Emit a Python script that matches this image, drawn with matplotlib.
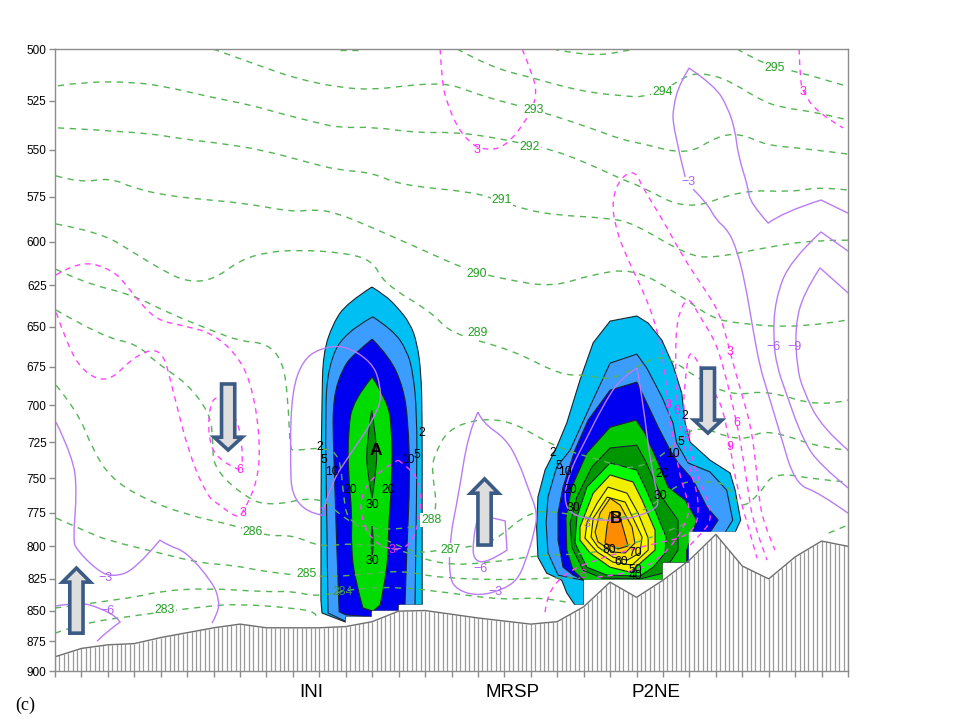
"""
Cross-section (c): cloud water contours over terrain, with theta and w lines
"""

import matplotlib

matplotlib.use("Agg")
import matplotlib.pyplot as plt
import numpy as np
from matplotlib.patches import PathPatch
from matplotlib.path import Path

plt.rcParams["font.family"] = ["Liberation Sans", "DejaVu Sans"]

# x is the grid index along the section (0-30), p is pressure in hPa
P_TICKS = list(range(500, 901, 25))
TERRAIN_P = [888, 881, 878, 877, 872, 868, 864, 861, 864, 864, 864, 863, 859, 850.5, 850, 853,
             856, 858.5, 861, 859, 847, 827.5, 839.5, 826, 810.5, 791, 815, 825, 808, 796, 800]

# cloud A
A2_X = [11.99, 12.49, 12.94, 13.43, 13.70, 13.85, 13.89, 13.89, 13.89, 13, 13, 12, 12, 11, 11, 10.10, 10.06, 10.06, 10.10, 10.14, 10.52, 11.05]
A2_P = [626.1, 631, 638, 647.8, 660, 679, 705.4, 765.8, 845.6, 845.6, 850.5, 850.5, 855.3, 855.3, 859.4, 852, 841.6, 751.4, 696.7, 666.5, 647.8, 635.6]
A5_X = [12.02, 12.79, 13.31, 13.55, 13.69, 13.69, 13.62, 13, 13, 12, 12, 11, 11, 10.33, 10.28, 10.22, 10.33, 10.90]
A5_P = [644, 652.1, 664.6, 679, 705.4, 751.4, 845.6, 845.6, 850.5, 850.5, 855.3, 855.3, 858.8, 852, 775.3, 705.4, 675.3, 654]
A10_X = [12.0, 12.67, 13.17, 13.36, 13.43, 13.32, 13.24, 13, 13, 12, 12, 11, 10.75, 10.52, 10.52, 10.90, 11.35]
A10_P = [657.7, 669, 688.2, 710, 751.4, 795, 845.6, 845.6, 850.5, 850.5, 855.3, 853.5, 851, 728, 694.7, 675.3, 666.5]
A20_X = [12.0, 12.56, 12.75, 12.75, 12.60, 12.60, 12.30, 12.03, 11.65, 11.35, 11.20, 11.24, 11.09, 11.09, 11.28]
A20_P = [681.7, 696.7, 714.8, 751.4, 790, 815.9, 845.6, 850.5, 848, 826, 800.5, 775.3, 746.4, 716.8, 696.7]
A30_X = [11.98, 12.21, 12.11, 12.0, 11.84, 11.76]
A30_P = [703.4, 728.4, 749.2, 764.4, 749.2, 728.4]
A30B_X = [12.0, 12.07, 12.0, 11.92]
A30B_P = [784.8, 800.5, 806.6, 797.5]

# cloud B
B2_X = [21.0, 22.01, 22.44, 22.96, 23.38, 23.71, 23.84, 24.03, 24.78, 25.54, 25.73, 25.94, 25.73, 24, 24, 23, 23, 20, 20, 19.67, 19.36, 19.17, 18.60, 18.27, 18.22, 18.27, 18.54, 18.98, 19.36, 19.86, 20.36]
B2_P = [646.6, 643.5, 647.8, 658.4, 674.1, 692.1, 712, 725, 737.4, 746.4, 758.6, 780.4, 789.3, 789.3, 812.6, 812.6, 826, 826, 845.6, 845.6, 836, 826, 820.5, 808.2, 785.5, 763.6, 744.3, 728.4, 712, 683.7, 660]
B5_X = [22.01, 22.39, 22.96, 23.38, 23.52, 23.95, 24.78, 25.41, 25.64, 25.35, 24, 24, 23, 23, 20, 19.36, 19.03, 18.65, 18.58, 18.65, 18.98, 19.49, 20.12, 21.0]
B5_P = [667.1, 676, 694.7, 712, 725.6, 739.4, 745.7, 758.6, 780.4, 789.5, 789.5, 812.6, 812.6, 826, 826, 823.6, 822, 805, 782.5, 763.6, 742.2, 730.4, 705.4, 672.8]
B10_X = [22.01, 22.39, 22.82, 23.27, 23.57, 24.14, 24.66, 25.09, 24.78, 24, 24, 23, 23, 20, 19.6, 19.22, 19.03, 19.03, 19.22, 19.67, 20.17, 21.0]
B10_P = [685, 698.7, 714.8, 730.4, 739.4, 751.4, 770.9, 780.4, 789.5, 789.5, 812.6, 812.6, 826, 826, 822, 815.9, 795.3, 775.3, 756.4, 730.4, 710, 690.2]
B20_X = [21.98, 22.32, 22.82, 23.2, 23.84, 24.28, 23.9, 23.9, 23, 23, 20, 19.6, 19.36, 19.33, 19.55, 20.12, 21.0]
B20_P = [710, 718.9, 739.4, 756.4, 765.8, 780.4, 802.8, 812.6, 812.6, 826, 826, 818.2, 802.8, 778.4, 756.4, 732.5, 714.8]
B30_X = [22.01, 22.32, 22.95, 23.57, 23.57, 23.27, 23, 23, 22.13, 20.69, 19.98, 19.55, 19.49, 19.74, 20.31, 21.0]
B30_P = [727, 737.4, 763.6, 780.4, 802.8, 812, 812.8, 820.5, 825, 824.4, 818.2, 800.5, 782.5, 763.6, 742.2, 729]
B40_X = [22.01, 22.32, 22.7, 23.12, 23.08, 22.63, 22.13, 20.87, 20.12, 19.67, 19.74, 20.12, 21.0]
B40_P = [744.3, 756.4, 773, 793, 805, 815.9, 822.8, 822, 815.9, 797.5, 778.4, 756.4, 739.4]
B50_X = [21.0, 21.87, 22.21, 22.7, 22.7, 22.13, 21.76, 21.0, 20.24, 19.86, 19.86, 20.36]
B50_P = [747.8, 752.8, 765.8, 787.8, 802.8, 813, 819.7, 815.9, 805, 795.3, 785.5, 760.8]
B60_X = [20.92, 21.64, 22.06, 22.44, 22.44, 21.83, 21.11, 20.51, 20.05, 20.13, 20.51]
B60_P = [756.4, 760.8, 775.3, 793.8, 802.8, 814.3, 812, 804.3, 793.8, 781.8, 768]
B70_X = [20.89, 21.57, 21.87, 22.21, 22.13, 21.64, 21.11, 20.54, 20.28, 20.36]
B70_P = [763.6, 767.2, 779, 793, 805, 810.5, 808.2, 800.5, 793, 779]
B80_X = [21.0, 21.38, 21.83, 21.94, 21.57, 21.11, 20.54, 20.43, 20.62]
B80_P = [764.4, 769.4, 785.5, 797.5, 805, 804.3, 796.6, 789.3, 775.3]
B90_X = [21.0, 21.38, 21.68, 21.3, 20.81, 20.89]
B90_P = [774.6, 778.4, 799.7, 802, 797.5, 784]

# grid cells under the terrain that have no data: first x, last x, top p
MASK_X0 = [11, 12, 13, 19.4, 20, 23, 24]
MASK_X1 = [12, 13, 14.2, 20, 23, 24, 26.5]
MASK_P = [855.3, 850.5, 845.6, 845.6, 826, 812.6, 789.3]

# theta lines (green)
G295_X = [25.80, 26.90, 28.15, 29.81, 30]
G295_P = [500, 508, 511, 517.4, 518]
G294_X = [15.21, 16.46, 18.09, 19.98, 21.87, 22.13, 22.97, 24.03, 24.9, 25.65, 26.79, 27.54, 28.68, 29.81, 30]
G294_P = [500, 508.6, 513.9, 520.7, 523.1, 523.1, 520.7, 511.4, 512.4, 516.3, 525.5, 528.5, 530.6, 534.1, 534.7]
G293_X = [5.98, 7.87, 9.16, 10.78, 12.03, 13.32, 14.19, 15.06, 16.19, 17.86, 19.0, 20.24, 21.49, 22.14, 23.91, 25.05, 25.92, 26.94, 28.19, 30]
G293_P = [500, 508.6, 514.3, 518.6, 519.6, 517.6, 516.7, 517.2, 522.9, 528.6, 533.1, 538.7, 544.9, 546.5, 552.7, 543, 541.5, 547.7, 549, 552.2]
G292_X = [0.11, 1.06, 2.95, 4.24, 5.86, 7.38, 8.4, 9.91, 10.78, 12.03, 13.7, 15.06, 16.46, 17.59, 18.84, 20.13, 21.49, 22.13, 23.95, 25.92, 27.92, 28.94, 30]
G292_P = [517.7, 515.8, 515.8, 518.2, 523.2, 527.1, 531, 536.1, 538.7, 538.2, 541.3, 540.8, 543.3, 546.4, 550, 556.9, 565.8, 569.1, 582.6, 571.3, 572.3, 569.6, 571.3]
G291_X = [0.11, 3.22, 4.84, 6.13, 7.87, 9.91, 10.78, 12.03, 13.05, 15.82, 16.72, 17.86, 18.99, 20.89, 21.87, 23.91, 24.9, 26.94, 28.68, 30]
G291_P = [538.7, 540.8, 544.4, 546.4, 550, 557.9, 560.6, 562.1, 568.6, 572.4, 576.7, 582.2, 585, 586.6, 589.3, 607.5, 609.3, 603, 599, 599]
G290_X = [0.04, 0.95, 2.08, 2.95, 4.24, 5.86, 7.38, 9.0, 9.91, 10.78, 12.03, 13.92, 15.59, 17.1, 18.84, 20.24, 21.87, 23.53, 24.78, 25.65, 28.19, 30]
G290_P = [563.7, 567.4, 564.7, 570.1, 574.4, 576.7, 578.9, 583.3, 581.7, 584.4, 592.1, 604.6, 616.1, 621.9, 626.1, 619, 615.1, 629.6, 644.1, 647.8, 651, 645.9]
G289_X = [0.04, 1.7, 2.95, 4.08, 4.99, 5.98, 7.0, 8.02, 9.16, 10.78, 12.03, 12.41, 14.3, 14.94, 17.33, 19.11, 20.13, 21.0, 22.02, 23, 24.4, 25.65, 26.94, 28.94, 30]
G289_P = [589.9, 594.4, 605.8, 616.4, 623.1, 622, 610.4, 605.8, 604.6, 605.8, 610.4, 623.7, 641.7, 654, 664.6, 680.4, 680.4, 683.7, 675.3, 666.5, 683.7, 694, 690.2, 701.4, 696.7]
G288_X = [0.04, 1.06, 2.95, 4.24, 5.98, 7.0, 8.02, 8.62, 8.81, 8.89, 9.0, 10.14, 10.78, 10.9, 11.09, 12.3, 13.7, 14.19, 14.46, 14.27, 14.3, 14.94, 16.95, 18.92, 20.35, 21.0, 21.76, 23, 24.14, 25.92, 26.94, 28.94, 30]
G288_P = [615.7, 623.4, 630.9, 641.3, 652.7, 659, 660.3, 671.6, 694.7, 728.4, 731.1, 728.4, 733.9, 761.5, 782.5, 787.8, 785.5, 780.4, 770.9, 746.4, 735.9, 713.4, 707.4, 728.4, 736, 739.4, 744.3, 735.2, 712, 725, 715.7, 729, 730.4]
G287_X = [0.04, 1.82, 3.09, 3.85, 4.99, 5.86, 5.98, 5.98, 7.0, 8.02, 10.03, 10.97, 13.05, 13.81, 14.57, 15.59, 16.55, 17.97, 19.37, 20.62, 22.13, 23.65, 24.29, 25.43, 25.92, 26.68, 27.18, 28.94, 30]
G287_P = [639.9, 656.5, 660.6, 672.8, 685.6, 705.4, 723.6, 742.2, 760.8, 770.9, 762.2, 780.4, 800.5, 805.1, 802.8, 800.5, 797.6, 773, 775.3, 780.4, 776.7, 752.8, 752.8, 752.8, 773, 760.8, 745.7, 751.4, 752.8]
G286_X = [0.04, 0.83, 1.44, 2.08, 3.22, 4.99, 6.73, 8.02, 9.0, 10.03, 11.16, 12.79, 14.57, 16.35, 18.35, 19.22, 20.62, 22.4, 23.91]
G286_P = [687, 703.4, 730.4, 749.2, 763.6, 776.7, 784, 792.3, 791.5, 800.5, 797.6, 800.5, 814.3, 812.8, 806.6, 806.6, 804.3, 795.3, 782.5]
G286B_X = [29.27, 30]
G286B_P = [790, 784]
G285_X = [0.04, 1.32, 1.97, 3.97, 5.49, 6.73, 8.02, 9.91, 11.54, 13.05, 14.57, 17.48, 19.0, 19.87]
G285_P = [778.9, 790, 795.3, 805.1, 812.8, 814.3, 819.7, 823.6, 822, 818.2, 824.4, 826, 823.6, 824.4]
G284_X = [0, 2.95, 3.97, 5.75, 8.02, 9.0, 9.91, 11.43, 13.05, 14.68, 16.95, 18.46, 19.49]
G284_P = [848, 840, 834.5, 832.2, 835.3, 834.5, 839.2, 832.2, 831.4, 835.3, 841.6, 839.2, 844]
G283_X = [0, 1.06, 2.95, 5.75, 7.0, 9.0, 9.91, 9.91]
G283_P = [868.4, 860.2, 854.3, 846.4, 844.8, 848, 851.3, 856.1]
G_TOP_A_X = [10.78, 11.54]
G_TOP_A_P = [500.5, 500.5]
G_TOP_B_X = [18.84, 20.13, 21.49, 21.87]
G_TOP_B_P = [500, 503.4, 501.4, 500]

# positive vertical velocity lines (magenta, dashed)
M1_X = [0.04, 0.95, 2.19, 2.76, 3.22, 3.86, 4.73, 5.98, 7.0, 7.49, 7.76, 7.68, 7.11, 6.89, 6.13, 5.79, 5.11, 4.46, 4.05, 3.03, 2.01, 1.06, 0.45, 0.04]
M1_P = [619, 610.4, 616.1, 626.1, 635.6, 645.9, 649, 654, 669.7, 690.2, 723.6, 751.4, 775.3, 779, 768, 763.6, 735.3, 690.2, 662.7, 667.8, 685.6, 678.5, 660.6, 641.1]
M2_X = [7.0, 6.05, 5.75, 5.98, 6.73, 7.11, 7.08]
M2_P = [744.3, 737.4, 714.8, 691.5, 703.4, 723.6, 742.2]
M3_X = [12.98, 13.62, 13.89, 13.73, 13.36, 12.75, 12.11, 11.62, 11.54, 12.11, 12.98]
M3_P = [737.4, 745.7, 760.8, 786.3, 800.5, 802.8, 797.6, 782.5, 763.6, 746.4, 737.4]
M4_X = [14.57, 14.64, 14.83, 15.21, 15.7, 16.19, 17.03, 17.97, 18.24, 18.05, 17.67]
M4_P = [500, 516.2, 526, 538.2, 546.4, 550, 549, 532.1, 521.3, 511.5, 500]
M5_X = [28.15, 28.19, 28.3, 28.83, 29.81]
M5_P = [500, 514.9, 520.7, 531, 538.7]
M6_X = [20.51, 22.02, 23.27, 24.03, 23.91, 23.57, 23.18, 23.07, 22.77, 22.24, 21.64, 21.19, 21.07, 21.38, 21.94, 22.24, 23, 23.76, 24.52, 25.16, 25.54, 25.99, 26.3, 26.49, 26.6, 26.79, 27.24]
M6_P = [823.6, 820.5, 802.8, 776.7, 763.6, 744.3, 700, 675.3, 650.2, 627.9, 609.2, 591.6, 576.7, 564.8, 560.6, 570.2, 587.7, 608.6, 626.1, 641.7, 665.9, 693.4, 712, 735.3, 758.6, 782.5, 802.8]
M7_X = [18.54, 18.62, 19.3, 20.36, 22.4, 24.21, 24.4, 23.95, 23.53, 23.46, 23.53, 23.95, 24.4, 24.97, 25.35, 25.8, 26.03, 26.22, 26.41, 26.94]
M7_P = [851.3, 836.2, 820.5, 810.5, 799, 791.5, 765.8, 740.8, 702, 670.9, 644.1, 630.8, 644.1, 658.4, 679, 712, 735.3, 758.6, 782.5, 810.5]
M8_X = [24.03, 24.4, 24.86, 24.67, 24.29, 23.91, 23.76, 23.84, 23.99, 24.4, 24.9, 25.27, 25.54, 25.8, 26.18, 26.56]
M8_P = [799, 791.5, 780.4, 763.6, 749.2, 720.2, 702, 683.7, 663.4, 674.1, 690.2, 702, 728.4, 756.4, 782.5, 809]

# negative vertical velocity lines (purple, solid)
P1_X = [23.84, 23.38, 23.38, 23.65, 23.99, 24.97, 25.46, 25.73, 25.84, 26.22, 26.3, 26.98, 27.54, 28.98, 30]
P1_P = [564.3, 538.7, 528, 516, 509.1, 517.7, 528.6, 539.8, 552.6, 569.7, 578.4, 589.4, 583.3, 576.7, 583.9]
P1B_X = [24.14, 24.67, 25.01, 25.46, 25.8, 26.11, 26.41, 26.67, 26.94, 27.43, 28, 28.94, 30]
P1B_P = [570.8, 578.4, 587.7, 593.3, 604.6, 623.7, 652.1, 675.3, 690.2, 718.8, 754.2, 760.8, 775.3]
P2_X = [30, 28.98, 27.81, 27.24, 27.17, 27.32, 27.62, 28.3, 28.94, 30]
P2_P = [605.2, 594.4, 610.4, 633.8, 658.4, 675.3, 690.2, 723.6, 740.8, 757]
P3_X = [30, 28.94, 28.3, 28, 28.07, 28.3, 29.02, 30]
P3_P = [629.6, 614.9, 630.2, 650.2, 675.3, 690.2, 715.4, 730.4]
P4_X = [0.04, 0.68, 0.83, 0.68, 0.83, 1.59, 2.16, 3.03, 3.97, 4.24, 4.99, 5.98, 6.21, 6.17, 5.94]
P4_P = [711.4, 735.3, 758.6, 795.3, 802.8, 818.2, 823.6, 818.2, 795.3, 799, 804.3, 828.3, 841.6, 851.3, 860.2]
P5_X = [0, 0.95, 1.7, 2.35, 2.46, 2.01, 1.59]
P5_P = [846.4, 843.2, 848, 855.3, 859.4, 866, 875]
P6_X = [10.14, 10.52, 10.97, 12.33, 12.3, 11.99, 10.97, 10.03, 9.38, 8.97, 8.89, 8.97, 10.1]
P6_P = [773, 751.4, 738.7, 702, 685.6, 672.2, 661.5, 663.4, 670.9, 690.2, 728.4, 773, 776.7]
P7_X = [16.0, 16.19, 17.03, 17.52, 17.97, 18.24, 18.16, 17.78, 17.48, 16.91, 16, 15.21, 14.91, 14.94, 15.25, 15.63, 16]
P7_P = [704.7, 712, 722.2, 737.4, 760.8, 774.6, 787.8, 812.8, 826, 833.7, 838.4, 833.7, 823.6, 793, 763.6, 718.8, 704.7]
P8_X = [16.08, 17.03, 17.1, 16.35, 15.82, 15.82, 15.97, 16.08]
P8_P = [776.7, 781, 802.8, 812.8, 810.5, 795.3, 779, 776.7]
P9_X = [22.02, 21.38, 20.7, 20.13, 19.49, 19.22, 19.6, 21.26, 22.78, 22.82, 22.51, 22.25, 22.02]
P9_P = [675.9, 682.4, 701.4, 721.6, 744.3, 765.8, 778.2, 781.8, 773, 763.6, 737.4, 698.7, 675.9]

# contour labels: text, x, p
GREEN_LABELS = [("295", 27.24, 509), ("294", 22.97, 520.7), ("293", 18.09, 529.6), ("292", 17.97, 548.4),
                ("291", 16.91, 576.7), ("290", 15.97, 618.4), ("289", 15.97, 654), ("288", 14.23, 780.4),
                ("287", 14.95, 802.8), ("286", 7.49, 789.3), ("285", 9.53, 821.2), ("283", 4.16, 849.6)]
MAGENTA_LABELS = [("3", 15.97, 550), ("3", 28.3, 520.7), ("3", 25.54, 666), ("3", 23.19, 700), ("6", 23.53, 704),
                  ("6", 25.8, 712), ("9", 25.54, 728.4), ("9", 23.91, 720), ("3", 7.11, 775.3), ("6", 7.0, 744.3),
                  ("3", 12.75, 802.8), ("6", 19.98, 822)]
PURPLE_LABELS = [("\u22123", 23.95, 567), ("\u22126", 27.17, 662.5), ("\u22129", 27.96, 662.5), ("\u22123", 1.89, 824),
                 ("\u22126", 2.0, 850), ("\u22123", 16.65, 835.3), ("\u22126", 16.08, 817), ("3", 10.1, 775),
                 ("3", 20.13, 783)]
CLOUD_LABELS = [("2", 10.03, 728.4), ("5", 10.18, 737.4), ("10", 10.48, 745.7), ("20", 11.16, 758.6),
                ("30", 12.0, 769), ("30", 12.0, 811), ("20", 12.6, 758.6), ("10", 13.36, 737.4), ("5", 13.7, 733.9),
                ("2", 13.89, 719), ("2", 18.85, 732.5), ("5", 19.07, 741.5), ("10", 19.3, 745.7), ("20", 19.49, 758.6),
                ("30", 19.6, 771.5), ("2", 23.84, 707), ("5", 23.69, 725), ("10", 23.38, 733), ("20", 22.97, 747),
                ("30", 22.89, 763), ("80", 20.97, 802.8), ("70", 21.95, 805), ("60", 21.41, 811.7),
                ("50", 21.95, 818), ("40", 21.95, 822.8)]
CLOUD_NAMES = [("A", 12.13, 730.4), ("B", 21.23, 779)]
SITES = [("INI", 9.69), ("MRSP", 17.3), ("P2NE", 22.74)]

# arrows: x, tail p, head base p, tip p
ARROW_X = [0.81, 6.55, 16.25, 24.7]
ARROW_TAIL = [868.4, 686.2, 799, 676]
ARROW_BASE = [827.5, 721.6, 760.8, 710]
ARROW_TIP = [816.6, 730.4, 750.6, 718.8]


def smooth_path(xs, ps, corners=()):
    """
    Curved path through the read points, sharp only at the given indices
    """
    verts = [(xs[0], ps[0])]
    codes = [Path.MOVETO]
    for i in range(1, len(xs) - 1):
        if i in corners:
            verts += [(xs[i], ps[i])]
            codes += [Path.LINETO]
        else:
            end_x = (xs[i] + xs[i + 1]) / 2
            end_p = (ps[i] + ps[i + 1]) / 2
            if i + 1 in corners or i == len(xs) - 2:
                end_x, end_p = xs[i + 1], ps[i + 1]
            verts += [(xs[i], ps[i]), (end_x, end_p)]
            codes += [Path.CURVE3, Path.CURVE3]
    verts += [(xs[-1], ps[-1])]
    codes += [Path.LINETO]
    return Path(verts, codes)


fig = plt.figure(figsize=(9.6, 7.26), dpi=100)
ax = fig.add_axes([55 / 960, 55 / 726, 793 / 960, 622 / 726])
ax.set_yscale("log")
ax.set_xlim(0, 30)
ax.set_ylim(900, 500)

edge = dict(edgecolor="#1c2430", linewidth=0.8, zorder=2)
cloud_a = [
    (A2_X, A2_P, "#00bff2", []),
    (A5_X, A5_P, "#3a9dff", []),
    (A10_X, A10_P, "#0000f0", []),
    (A20_X, A20_P, "#00dc00", []),
    (A30_X, A30_P, "#009600", [3]),
    (A30B_X, A30B_P, "#009600", [2]),
]
for xs, ps, color, tips in cloud_a:
    low = [i for i, p in enumerate(ps) if p > 840]
    closed_x = list(xs) + [xs[0]]
    closed_p = list(ps) + [ps[0]]
    ax.add_patch(PathPatch(smooth_path(closed_x, closed_p, tips + low), facecolor=color, **edge))

cloud_b = [
    (B2_X, B2_P, "#00bff2"),
    (B5_X, B5_P, "#3a9dff"),
    (B10_X, B10_P, "#0000f0"),
    (B20_X, B20_P, "#00c800"),
    (B30_X, B30_P, "#009600"),
    (B40_X, B40_P, "#00fa00"),
    (B50_X, B50_P, "#f2ee00"),
    (B60_X, B60_P, "#fffa00"),
    (B70_X, B70_P, "#ffe600"),
    (B80_X, B80_P, "#ffcc00"),
    (B90_X, B90_P, "#ff8c00"),
]
for xs, ps, color in cloud_b:
    ax.fill(xs, ps, facecolor=color, **edge)

for x0, x1, p in zip(MASK_X0, MASK_X1, MASK_P):
    ax.fill([x0, x1, x1, x0], [p, p, 900, 900], facecolor="white", edgecolor="white", linewidth=1.0, zorder=2.5)

green_lines = [
    (G295_X, G295_P), (G294_X, G294_P), (G293_X, G293_P), (G292_X, G292_P), (G291_X, G291_P),
    (G290_X, G290_P), (G289_X, G289_P), (G288_X, G288_P), (G287_X, G287_P), (G286_X, G286_P),
    (G286B_X, G286B_P), (G285_X, G285_P), (G284_X, G284_P), (G283_X, G283_P),
    (G_TOP_A_X, G_TOP_A_P), (G_TOP_B_X, G_TOP_B_P),
]
for xs, ps in green_lines:
    ax.add_patch(PathPatch(smooth_path(xs, ps), fill=False, edgecolor="#55b555", linewidth=1.0,
                           linestyle=(0, (4.5, 4)), zorder=3))

magenta_lines = [(M1_X, M1_P), (M2_X, M2_P), (M3_X, M3_P), (M4_X, M4_P),
                 (M5_X, M5_P), (M6_X, M6_P), (M7_X, M7_P), (M8_X, M8_P)]
for xs, ps in magenta_lines:
    ax.add_patch(PathPatch(smooth_path(xs, ps), fill=False, edgecolor="#ff44ff", linewidth=1.0,
                           linestyle=(0, (4, 3.5)), zorder=4))

purple_lines = [(P1_X, P1_P, [4, 11, 13]), (P1B_X, P1B_P, []), (P2_X, P2_P, [1]), (P3_X, P3_P, [1]),
                (P4_X, P4_P, [8]), (P5_X, P5_P, [4]), (P6_X, P6_P, []), (P7_X, P7_P, []),
                (P8_X, P8_P, [1, 2]), (P9_X, P9_P, [])]
for xs, ps, corners in purple_lines:
    ax.add_patch(PathPatch(smooth_path(xs, ps, corners), fill=False, edgecolor="#b97cf5", linewidth=1.0, zorder=5))

# terrain, hatched down to the bottom of the axes
terrain_x = np.arange(len(TERRAIN_P))
hatch_x = np.linspace(0, 30, 181)
ax.vlines(hatch_x, np.interp(hatch_x, terrain_x, TERRAIN_P), 900, color="#9a9a9a", linewidth=0.9, zorder=6)
ax.plot(terrain_x, TERRAIN_P, color="#6e6e6e", linewidth=1.0, zorder=7)

white_box = dict(facecolor="white", edgecolor="none", pad=0.6)
for text, x, p in GREEN_LABELS:
    ax.text(x, p, text, color="#22a022", fontsize=8.8, ha="center", va="center", bbox=white_box, zorder=8)
ax.text(10.86, 835.3, "284", color="#3f9a3f", fontsize=8.8, ha="center", va="center", zorder=8)
for text, x, p in MAGENTA_LABELS:
    ax.text(x, p, text, color="#ff22ee", fontsize=9, ha="center", va="center", zorder=8)
for text, x, p in PURPLE_LABELS:
    ax.text(x, p, text, color="#b060f0", fontsize=9, ha="center", va="center", zorder=8)
for text, x, p in CLOUD_LABELS:
    ax.text(x, p, text, color="black", fontsize=8.8, ha="center", va="center", zorder=9)
for text, x, p in CLOUD_NAMES:
    ax.text(x, p, text, color="black", fontsize=12.5, fontweight="bold", ha="center", va="center", zorder=9)

# up and down arrows
shaft = 0.25
head = 0.53
for x, tail, base, tip in zip(ARROW_X, ARROW_TAIL, ARROW_BASE, ARROW_TIP):
    ax.fill([x - shaft, x + shaft, x + shaft, x + head, x, x - head, x - shaft],
            [tail, tail, base, base, tip, base, base],
            facecolor="#dedede", edgecolor="#3b5b85", linewidth=2.6, joinstyle="miter", zorder=10)

ax.set_xticks(np.arange(31))
ax.set_xticklabels([])
ax.set_yticks(P_TICKS)
ax.set_yticklabels([str(p) for p in P_TICKS])
ax.minorticks_off()
ax.tick_params(axis="both", length=4.5, width=1.0, color="#8c8c8c", labelsize=8.5, pad=1.5)
for spine in ax.spines.values():
    spine.set_color("#8c8c8c")
    spine.set_linewidth(1.0)
    spine.set_zorder(11)

for text, x in SITES:
    ax.text(x, -0.034, text, transform=ax.get_xaxis_transform(), fontsize=13.5, ha="center", va="center")
fig.text(25 / 960, 1 - 705 / 726, "(c)", fontsize=13, family=["Liberation Serif"], ha="center", va="center")

fig.savefig("out.png", dpi=100)
